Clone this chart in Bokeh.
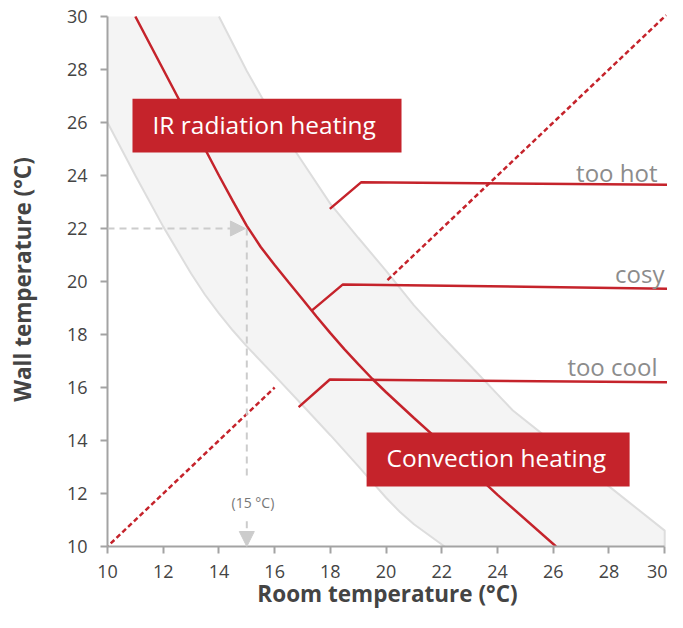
from bokeh.plotting import figure
from bokeh.models import Range1d, Arrow, NormalHead
from bokeh.core.properties import value
from bokeh.embed import file_html
from bokeh.resources import INLINE

# ---------------- data ----------------
room_ticks = [10, 12, 14, 16, 18, 20, 22, 24, 26, 28, 30]
wall_ticks = [10, 12, 14, 16, 18, 20, 22, 24, 26, 28, 30]

# dividing curve (IR radiation vs convection)
curve_room = [11, 12, 13, 14, 14.5, 15, 15.5, 16, 16.5, 17, 17.5, 18, 18.5, 19, 19.5, 20, 21, 22, 24, 26.1]
curve_wall = [30, 28, 26, 24, 23.03, 22.1, 21.3, 20.62, 19.97, 19.33, 18.68, 18.05, 17.45, 16.88, 16.33, 15.82, 14.85, 13.9, 11.95, 10]

# comfort band boundaries
band_low_room = [10, 11, 12, 13, 13.5, 14, 14.5, 15, 16, 17, 18, 19, 20, 20.5, 21, 22.1]
band_low_wall = [26, 24.0, 22.07, 20.3, 19.5, 18.8, 18.15, 17.55, 16.45, 15.33, 14.2, 13.03, 11.84, 11.3, 10.84, 10]
band_up_room = [14, 15, 16, 17, 18, 19, 20, 21, 22, 23, 24, 24.55, 26, 28, 30, 30]
band_up_wall = [30, 27.94, 26.09, 24.51, 22.93, 21.65, 20.4, 19.1, 17.95, 16.85, 15.74, 15.13, 13.92, 12.27, 10.6, 10]

# comfort level lines
hot_room = [17.98, 19.1, 30.1]
hot_wall = [22.74, 23.74, 23.65]
cosy_room = [17.33, 18.45, 30.1]
cosy_wall = [18.9, 19.89, 19.73]
cool_room = [16.86, 17.98, 30.1]
cool_wall = [15.26, 16.3, 16.2]
level_names = ["too hot", "cosy", "too cool"]

# equal temperature diagonals
diag_low = [9.7, 16.0]
diag_up = [20.05, 30.05]

# example reading
ex_room = 15
ex_wall = 22
ex_label = "(15 °C)"

# ---------------- style ----------------
RED = "#c5232b"
FONT = "Open Sans"
AX = "#a3a3a3"
GR = "#cccccc"

p = figure(width=667, height=612,
           x_range=Range1d(10, 30.1), y_range=Range1d(10, 30.15),
           output_backend="svg", toolbar_location=None,
           min_border_left=107, min_border_right=0,
           min_border_top=12, min_border_bottom=66)
p.outline_line_color = None
p.grid.visible = False

# band fill
patch_x = [10] + band_up_room + band_low_room[::-1]
patch_y = [30] + band_up_wall + band_low_wall[::-1]
p.patch(patch_x, patch_y, fill_color="#f4f4f4", line_color=None)
p.line(band_up_room, band_up_wall, line_color="#dddddd", line_width=2)
p.line(band_low_room, band_low_wall, line_color="#dddddd", line_width=2)

# diagonals
p.line(diag_low, diag_low, line_color=RED, line_width=2.5, line_dash="5 3")
p.line(diag_up, diag_up, line_color=RED, line_width=2.5, line_dash="5 3")

# reading arrows
p.add_layout(Arrow(end=NormalHead(size=15, fill_color=GR, line_color=GR),
                   x_start=10, y_start=ex_wall, x_end=ex_room - 0.05, y_end=ex_wall,
                   line_color=GR, line_width=2, line_dash="7 5"))
p.line([ex_room, ex_room], [ex_wall, 12.5], line_color=GR, line_width=2, line_dash="7 5")
p.add_layout(Arrow(end=NormalHead(size=15, fill_color=GR, line_color=GR),
                   x_start=ex_room, y_start=10.95, x_end=ex_room, y_end=10.0,
                   line_color=GR, line_width=2, line_dash="7 5"))
p.text(x=[ex_room + 0.22], y=[11.67], text=[ex_label], text_font=value(FONT),
       text_font_size="14px", text_color="#777777", text_align="center",
       text_baseline="middle")

# main curve
p.line(curve_room, curve_wall, line_color=RED, line_width=2.5)

# level lines
for xs, ys in [(hot_room, hot_wall), (cosy_room, cosy_wall), (cool_room, cool_wall)]:
    p.line(xs, ys, line_color=RED, line_width=2.5)

lab_x = [29.74, 29.99, 29.74]
lab_y = [24.10, 20.29, 16.78]
p.text(x=lab_x, y=lab_y, text=level_names, text_font=value(FONT),
       text_font_size="24px", text_color="#8c8c8c", text_align="right",
       text_baseline="middle")

# boxes
p.quad(left=[10.897, 19.30], right=[20.553, 28.74], bottom=[24.87, 12.26], top=[26.9, 14.3],
       fill_color=RED, line_color=None)
p.text(x=[11.615, 20.014], y=[25.91, 13.34], text=["IR radiation heating", "Convection heating"],
       text_font=value(FONT), text_font_size="24.5px", text_color="white",
       text_align="left", text_baseline="middle")

# axes
for ax in (p.xaxis[0], p.yaxis[0]):
    ax.bounds = (10, 30)
    ax.axis_line_color = AX
    ax.axis_line_width = 2
    ax.major_tick_line_color = AX
    ax.major_tick_line_width = 2
    ax.major_tick_in = 0
    ax.major_tick_out = 7
    ax.minor_tick_line_color = None
    ax.major_label_text_font = FONT
    ax.major_label_text_font_size = "18px"
    ax.major_label_text_color = "#444444"
    ax.axis_label_text_font = FONT
    ax.axis_label_text_font_size = "22.5px"
    ax.axis_label_text_font_style = "bold"
    ax.axis_label_text_color = "#444444"
p.xaxis.ticker = room_ticks
p.yaxis.ticker = wall_ticks
p.xaxis.axis_label = "Room temperature (°C)"
p.yaxis.axis_label = "Wall temperature (°C)"
p.xaxis.major_label_standoff = 11
p.yaxis.major_label_standoff = 13
p.xaxis.axis_label_standoff = -3
p.yaxis.axis_label_standoff = 26

open("out.html", "w").write(file_html(p, INLINE))
